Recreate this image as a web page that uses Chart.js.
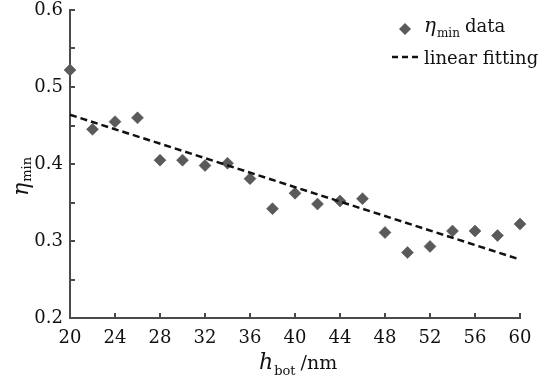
<!DOCTYPE html>
<html>
<head>
<meta charset="utf-8">
<script src="https://cdn.jsdelivr.net/npm/chart.js@4.4.1/dist/chart.umd.min.js"></script>
<style>
  html, body { margin: 0; padding: 0; background: #ffffff; }
  #wrap { width: 558px; height: 379px; }
</style>
</head>
<body>
<div id="wrap"><canvas id="c" width="558" height="379"></canvas></div>
<script>
// Bottom-layer thickness h_bot (nm) and the minimum efficiency measured at each
const hBot = [20, 22, 24, 26, 28, 30, 32, 34, 36, 38, 40, 42, 44, 46, 48, 50, 52, 54, 56, 58, 60];
const etaMin = [0.522, 0.445, 0.455, 0.460, 0.405, 0.405, 0.398, 0.401, 0.381, 0.342, 0.362,
                0.348, 0.352, 0.355, 0.311, 0.285, 0.293, 0.313, 0.313, 0.307, 0.322];

// Linear fit end points
const fitX = [20, 60];
const fitY = [0.464, 0.276];

// Axis ticks
const xTicks = [20, 24, 28, 32, 36, 40, 44, 48, 52, 56, 60];
const yTicks = [0.2, 0.3, 0.4, 0.5, 0.6];
const yMinorTicks = [0.25, 0.35, 0.45, 0.55];

const FONT = '"DejaVu Serif", "Liberation Serif", serif';
const AXIS_COLOR = '#4a4a4a';
const TEXT_COLOR = '#111111';

const decorations = {
  id: 'decorations',
  beforeDraw(chart) {
    const ctx = chart.ctx;
    ctx.save();
    ctx.fillStyle = '#ffffff';
    ctx.fillRect(0, 0, chart.width, chart.height);
    ctx.restore();
  },
  afterDraw(chart) {
    const ctx = chart.ctx;
    const xs = chart.scales.x, ys = chart.scales.y;
    const area = chart.chartArea;
    ctx.save();

    // inward tick marks
    ctx.strokeStyle = AXIS_COLOR;
    ctx.lineWidth = 2;
    ctx.beginPath();
    xTicks.forEach(v => {
      const px = Math.round(xs.getPixelForValue(v));
      ctx.moveTo(px, area.bottom);
      ctx.lineTo(px, area.bottom - 5);
    });
    yTicks.concat(yMinorTicks).forEach(v => {
      const py = Math.round(ys.getPixelForValue(v));
      ctx.moveTo(area.left, py);
      ctx.lineTo(area.left + 5, py);
    });
    ctx.stroke();

    ctx.fillStyle = TEXT_COLOR;
    ctx.textBaseline = 'alphabetic';

    // x-axis title: h_bot /nm
    let x = 259, y = 369;
    ctx.textAlign = 'left';
    ctx.font = 'italic 22px ' + FONT;
    ctx.fillText('h', x, y);
    x += ctx.measureText('h').width + 1;
    ctx.font = '13px ' + FONT;
    ctx.fillText('bot', x, y + 6);
    x += ctx.measureText('bot').width + 5;
    ctx.font = '19px ' + FONT;
    ctx.fillText('/nm', x, y);

    // y-axis title: η_min
    ctx.save();
    ctx.translate(28, 196);
    ctx.rotate(-Math.PI / 2);
    ctx.font = 'italic 22px ' + FONT;
    ctx.fillText('η', 0, 0);
    let tx = ctx.measureText('η').width + 1;
    ctx.font = '13px ' + FONT;
    ctx.fillText('min', tx, 3);
    ctx.restore();

    // legend
    const ds0 = chart.data.datasets[0];
    ctx.fillStyle = ds0.backgroundColor;
    ctx.beginPath();
    const lx = 405, ly = 29, r = 6;
    ctx.moveTo(lx - r, ly);
    ctx.lineTo(lx, ly - r);
    ctx.lineTo(lx + r, ly);
    ctx.lineTo(lx, ly + r);
    ctx.closePath();
    ctx.fill();

    ctx.fillStyle = TEXT_COLOR;
    x = 424; y = 32;
    ctx.font = 'italic 20px ' + FONT;
    ctx.fillText('η', x, y);
    x += ctx.measureText('η').width + 1;
    ctx.font = '12px ' + FONT;
    ctx.fillText('min', x, y + 5);
    x += ctx.measureText('min').width + 5;
    ctx.font = '18px ' + FONT;
    ctx.fillText('data', x, y);

    ctx.strokeStyle = '#111111';
    ctx.lineWidth = 2.5;
    ctx.setLineDash([6, 4]);
    ctx.beginPath();
    ctx.moveTo(392, 57);
    ctx.lineTo(419, 57);
    ctx.stroke();
    ctx.setLineDash([]);

    ctx.font = '18px ' + FONT;
    ctx.fillText('linear fitting', 424, 64);

    ctx.restore();
  }
};

new Chart(document.getElementById('c'), {
  type: 'scatter',
  data: {
    datasets: [
      {
        label: 'η min data',
        data: hBot.map((h, i) => ({ x: h, y: etaMin[i] })),
        pointStyle: 'rectRot',
        pointRadius: 6,
        backgroundColor: '#5a5a5a',
        borderColor: '#4d4d4d',
        borderWidth: 0.5,
        order: 1
      },
      {
        label: 'linear fitting',
        type: 'line',
        data: fitX.map((h, i) => ({ x: h, y: fitY[i] })),
        borderColor: '#111111',
        borderWidth: 2.5,
        borderDash: [7, 4],
        pointRadius: 0,
        fill: false,
        order: 0
      }
    ]
  },
  options: {
    responsive: false,
    animation: false,
    clip: false,
    layout: { padding: { top: 10, right: 38, left: 0, bottom: 0 } },
    plugins: {
      legend: { display: false },
      tooltip: { enabled: false }
    },
    scales: {
      x: {
        type: 'linear',
        min: 20,
        max: 60,
        afterBuildTicks: s => { s.ticks = xTicks.map(v => ({ value: v })); },
        afterFit: s => { s.height = 61; s.paddingLeft = 0; s.paddingRight = 0; },
        grid: { display: false, drawTicks: false },
        border: { display: true, color: AXIS_COLOR, width: 2 },
        ticks: {
          padding: 10,
          maxRotation: 0,
          autoSkip: false,
          color: TEXT_COLOR,
          font: { family: FONT, size: 18 }
        }
      },
      y: {
        type: 'linear',
        min: 0.2,
        max: 0.6,
        afterBuildTicks: s => { s.ticks = yTicks.map(v => ({ value: v })); },
        afterFit: s => { s.width = 70; s.paddingTop = 0; s.paddingBottom = 0; },
        grid: { display: false, drawTicks: false },
        border: { display: true, color: AXIS_COLOR, width: 2 },
        ticks: {
          padding: 7,
          autoSkip: false,
          color: TEXT_COLOR,
          font: { family: FONT, size: 18 },
          callback: v => Number(v).toFixed(1)
        }
      }
    }
  },
  plugins: [decorations]
});
</script>
</body>
</html>
